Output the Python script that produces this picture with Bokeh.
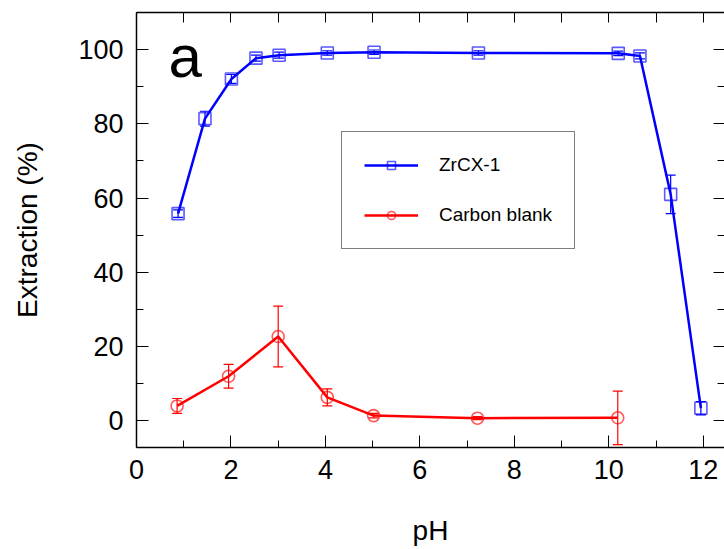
from bokeh.plotting import figure
from bokeh.models import (ColumnDataSource, Whisker, TeeHead, Legend, LegendItem,
                          LinearAxis, FixedTicker, SingleIntervalTicker, Range1d, Label)
from bokeh.embed import file_html
from bokeh.resources import INLINE

# ---- data ----
zr_ph = [0.88, 1.45, 2.01, 2.53, 3.02, 4.04, 5.03, 7.24, 10.20, 10.66, 11.31, 11.95]
zr_ext = [55.8, 81.4, 92.1, 97.7, 98.5, 99.1, 99.3, 99.1, 99.0, 98.3, 61.0, 3.4]
zr_err = [1.0, 2.0, 1.2, 0.8, 0.8, 0.6, 0.6, 0.6, 0.6, 0.8, 5.2, 1.8]

cb_ph = [0.86, 1.95, 3.00, 4.04, 5.02, 7.22, 10.19]
cb_ext = [4.0, 12.0, 22.7, 6.3, 1.4, 0.7, 0.8]
cb_err = [2.0, 3.2, 8.2, 2.3, 0.6, 0.4, 7.2]

x_ticks = [0, 2, 4, 6, 8, 10, 12]
y_ticks = [0, 20, 40, 60, 80, 100]

FONT = "Liberation Sans"
BLUE = "#0000ff"
RED = "#ff0000"

zr = ColumnDataSource(dict(x=zr_ph, y=zr_ext,
                           lo=[v - e for v, e in zip(zr_ext, zr_err)],
                           hi=[v + e for v, e in zip(zr_ext, zr_err)]))
cb = ColumnDataSource(dict(x=cb_ph, y=cb_ext,
                           lo=[v - e for v, e in zip(cb_ext, cb_err)],
                           hi=[v + e for v, e in zip(cb_ext, cb_err)]))

p = figure(width=724, height=549, output_backend="svg", toolbar_location=None,
           x_range=Range1d(0, 12.45), y_range=Range1d(-7.2, 110),
           min_border_left=136, min_border_right=0, min_border_top=12, min_border_bottom=102)
p.background_fill_color = "white"
p.border_fill_color = "white"
p.outline_line_color = None
p.xgrid.grid_line_color = None
p.ygrid.grid_line_color = None

xa = p.xaxis[0]
xa.ticker = SingleIntervalTicker(interval=2, num_minor_ticks=2)
xa.axis_label = "pH"
ya = p.yaxis[0]
ya.ticker = SingleIntervalTicker(interval=20, num_minor_ticks=2)
ya.axis_label = "Extraction (%)"
for ax in (xa, ya):
    ax.axis_line_color = "black"
    ax.axis_line_width = 1.5
    ax.major_tick_in = 12
    ax.major_tick_out = 0
    ax.minor_tick_in = 7
    ax.minor_tick_out = 0
    ax.major_tick_line_color = "black"
    ax.minor_tick_line_color = "black"
    ax.major_label_text_font = FONT
    ax.major_label_text_font_size = "27px"
    ax.major_label_text_color = "black"
    ax.axis_label_text_font = FONT
    ax.axis_label_text_font_size = "28px"
    ax.axis_label_text_font_style = "normal"
    ax.axis_label_text_color = "black"
xa.major_label_standoff = 12
xa.axis_label_standoff = 33
ya.major_label_standoff = 13
ya.axis_label_standoff = 32

# top axis (ticks only, labels not drawn)
top = LinearAxis(ticker=FixedTicker(ticks=list(range(13)), minor_ticks=[]),
                 axis_line_color="black", axis_line_width=1.5,
                 major_tick_in=10, major_tick_out=0, minor_tick_in=0, minor_tick_out=0,
                 major_label_text_font_size="1px", major_label_text_color=None,
                 major_label_standoff=0)
p.add_layout(top, "above")
# right axis (ticks only, labels not drawn)
right = LinearAxis(ticker=FixedTicker(ticks=y_ticks, minor_ticks=[10, 30, 50, 70, 90]),
                   axis_line_color=None,
                   major_tick_in=11, major_tick_out=0, minor_tick_in=7, minor_tick_out=0,
                   major_label_text_font_size="1px", major_label_text_color=None,
                   major_label_standoff=0)
p.add_layout(right, "right")

# error bars
p.add_layout(Whisker(source=zr, base="x", lower="lo", upper="hi", dimension="height",
                     line_color=BLUE, line_width=1.2,
                     upper_head=TeeHead(size=10, line_color=BLUE, line_width=1.2),
                     lower_head=TeeHead(size=10, line_color=BLUE, line_width=1.2)))
p.add_layout(Whisker(source=cb, base="x", lower="lo", upper="hi", dimension="height",
                     line_color=RED, line_width=1.2,
                     upper_head=TeeHead(size=10, line_color=RED, line_width=1.2),
                     lower_head=TeeHead(size=10, line_color=RED, line_width=1.2)))

zl = p.line("x", "y", source=zr, line_color=BLUE, line_width=2.5)
zs = p.scatter("x", "y", source=zr, marker="square", size=12, fill_color=None,
               line_color=BLUE, line_alpha=0.65, line_width=1.6)
cl = p.line("x", "y", source=cb, line_color=RED, line_width=2.5)
cs = p.scatter("x", "y", source=cb, marker="circle", size=12, fill_color=None,
               line_color=RED, line_alpha=0.65, line_width=1.6)

legend = Legend(items=[LegendItem(label="ZrCX-1", renderers=[zl, zs]),
                       LegendItem(label="Carbon blank", renderers=[cl, cs])],
                location=(205, 198), margin=0, padding=22, spacing=28,
                glyph_width=54, glyph_height=20, label_height=20, label_standoff=21,
                label_text_font=FONT, label_text_font_size="19px", label_text_color="black",
                border_line_color="black", border_line_width=1,
                background_fill_color="white", background_fill_alpha=1)
p.add_layout(legend, "center")

p.add_layout(Label(x=0.68, y=98.2, text="a", text_font=FONT, text_font_size="60px",
                   text_color="black", text_baseline="alphabetic"))

open("out.html", "w").write(file_html(p, INLINE))
